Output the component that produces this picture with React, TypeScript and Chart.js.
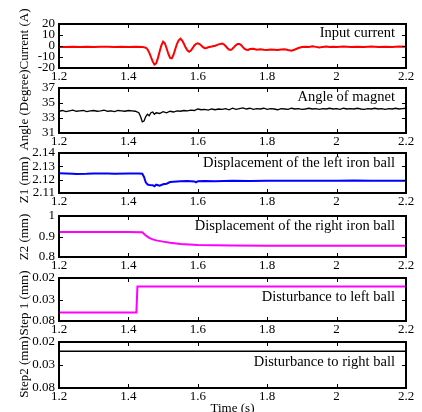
import React, { useEffect, useRef } from "react";
import { Chart, registerables } from "chart.js";
Chart.register(...registerables);

const FONT = "'Liberation Serif', 'Times New Roman', serif";

// shared time axis
const xTicks = [1.2, 1.4, 1.6, 1.8, 2.0, 2.2];
const xTickLabels = ["1.2", "1.4", "1.6", "1.8", "2", "2.2"];

// Panel 1: input current
const curT = [
  1.2, 1.22, 1.24, 1.26, 1.28, 1.3, 1.32, 1.34, 1.36, 1.38,
  1.4, 1.42, 1.44, 1.45, 1.455, 1.46, 1.465, 1.47, 1.475, 1.48,
  1.485, 1.49, 1.495, 1.5, 1.505, 1.51, 1.515, 1.52, 1.525, 1.53,
  1.535, 1.54, 1.545, 1.55, 1.555, 1.56, 1.565, 1.57, 1.575, 1.58,
  1.585, 1.59, 1.595, 1.6, 1.605, 1.61, 1.615, 1.62, 1.625, 1.63,
  1.64, 1.65, 1.66, 1.67, 1.675, 1.68, 1.685, 1.69, 1.695, 1.7,
  1.705, 1.71, 1.715, 1.72, 1.725, 1.73, 1.735, 1.74, 1.745, 1.75,
  1.76, 1.77, 1.78, 1.79, 1.8, 1.81, 1.82, 1.83, 1.84, 1.85,
  1.86, 1.87, 1.88, 1.89, 1.9, 1.91, 1.92, 1.93, 1.94, 1.95,
  1.96, 1.97, 1.98, 1.99, 2.0, 2.02, 2.04, 2.06, 2.08, 2.1,
  2.12, 2.14, 2.16, 2.18, 2.2,
];
const curV = [
  -0.8, -0.9, -0.7, -0.8, -0.6, -0.8, -0.7, -0.6, -0.8, -0.7,
  -0.8, -0.7, -0.8, -1.5, -3, -6, -10, -14, -16.8, -15.8,
  -11, -5, 0.5, 3.9, 2.5, -2, -7, -10.8, -11.2, -8,
  -3, 2, 5.2, 6.6, 5, 2, -1.5, -4, -5.2, -4.2,
  -2, 0.5, 2, 2.5, 1.8, 0.5, -1, -2, -1.8, -1.2,
  -0.5, 0.3, 1.5, 2.3, 1.5, 0, -1.8, -3.2, -3.6, -2.5,
  -0.8, 0.8, 1.8, 1.9, 0.8, -1, -2.6, -3.5, -3.6, -2.8,
  -2.5, -3.3, -3, -3.4, -3.6, -3.2, -3.4, -3.7, -3.2, -2.9,
  -3.6, -4.2, -3.2, -1.8, -0.9, -0.6, -0.9, -0.3, -0.8, -1.3,
  -0.8, -0.5, -0.9, -0.6, -0.8, -0.5, -1, -0.6, -0.9, -0.5,
  -0.8, -0.6, -0.9, -0.5, -0.6,
];
const curTicks = [-20, -10, 0, 10, 20];
const curTickLabels = ["-20", "-10", "0", "10", "20"];

// Panel 2: angle of magnet
const angT = [
  1.2, 1.21, 1.22, 1.23, 1.24, 1.25, 1.26, 1.27, 1.28, 1.29,
  1.3, 1.31, 1.32, 1.33, 1.34, 1.35, 1.36, 1.37, 1.38, 1.39,
  1.4, 1.41, 1.42, 1.43, 1.435, 1.44, 1.445, 1.45, 1.455, 1.46,
  1.465, 1.47, 1.475, 1.48, 1.49, 1.5, 1.51, 1.52, 1.53, 1.54,
  1.55, 1.56, 1.57, 1.58, 1.59, 1.6, 1.61, 1.62, 1.63, 1.64,
  1.65, 1.66, 1.67, 1.68, 1.69, 1.7, 1.71, 1.72, 1.73, 1.74,
  1.75, 1.76, 1.77, 1.78, 1.79, 1.8, 1.81, 1.82, 1.83, 1.84,
  1.85, 1.86, 1.87, 1.88, 1.89, 1.9, 1.91, 1.92, 1.93, 1.94,
  1.95, 1.96, 1.97, 1.98, 1.99, 2.0, 2.01, 2.02, 2.03, 2.04,
  2.05, 2.06, 2.07, 2.08, 2.09, 2.1, 2.11, 2.12, 2.13, 2.14,
  2.15, 2.16, 2.17, 2.18, 2.19, 2.2,
];
const angV = [
  33.9, 34.0, 33.85, 33.95, 34.05, 33.9, 33.95, 34.0, 33.85, 33.95,
  34.0, 33.9, 33.95, 34.05, 33.9, 33.95, 33.85, 34.0, 33.95, 33.9,
  34.0, 33.95, 33.9, 33.7, 33.2, 32.5, 32.6, 33.2, 33.5, 33.3,
  33.7, 33.8, 33.5, 33.7, 33.6, 33.85, 33.7, 33.9, 33.8, 33.95,
  33.9, 34.0, 33.95, 34.05, 34.0, 34.2, 34.1, 34.15, 34.05, 34.2,
  34.1, 34.2, 34.15, 34.25, 34.1, 34.3, 34.15, 34.25, 34.35, 34.2,
  34.3, 34.15, 34.25, 34.2, 34.3, 34.15, 34.25, 34.2, 34.1, 34.25,
  34.2, 34.15, 34.3, 34.2, 34.25, 34.15, 34.2, 34.3, 34.2, 34.25,
  34.15, 34.25, 34.2, 34.3, 34.2, 34.25, 34.15, 34.3, 34.2, 34.25,
  34.2, 34.3, 34.2, 34.15, 34.25, 34.2, 34.3, 34.2, 34.25, 34.15,
  34.25, 34.2, 34.3, 34.2, 34.25, 34.3,
];
const angTicks = [31, 33, 35, 37];
const angTickLabels = ["31", "33", "35", "37"];

// Panel 3: left ball displacement
const z1T = [
  1.2, 1.24, 1.25, 1.28, 1.3, 1.34, 1.36, 1.4, 1.43, 1.44,
  1.445, 1.45, 1.455, 1.46, 1.47, 1.475, 1.48, 1.49, 1.5, 1.51,
  1.52, 1.53, 1.55, 1.57, 1.59, 1.595, 1.6, 1.62, 1.65, 1.7,
  1.75, 1.8, 1.85, 1.9, 1.95, 2.0, 2.05, 2.1, 2.15, 2.2,
];
const z1V = [
  2.1248, 2.1245, 2.1243, 2.1244, 2.1246, 2.1247, 2.1245, 2.1246, 2.1246, 2.1244,
  2.122, 2.118, 2.1165, 2.116, 2.1158, 2.115, 2.1162, 2.1155, 2.1165, 2.117,
  2.1182, 2.1185, 2.1188, 2.119, 2.1187, 2.118, 2.1188, 2.119, 2.1189, 2.1191,
  2.119, 2.1191, 2.1192, 2.1191, 2.1192, 2.1191, 2.1193, 2.1192, 2.1191, 2.1192,
];
const z1Ticks = [2.11, 2.12, 2.13, 2.14];
const z1TickLabels = ["2.11", "2.12", "2.13", "2.14"];

// Panel 4: right ball displacement
const z2T = [
  1.2, 1.3, 1.4, 1.44, 1.45, 1.46, 1.47, 1.48, 1.5, 1.52,
  1.55, 1.6, 1.65, 1.7, 1.8, 1.9, 2.0, 2.1, 2.2,
];
const z2V = [
  0.922, 0.922, 0.922, 0.921, 0.905, 0.893, 0.886, 0.881, 0.875, 0.87,
  0.864, 0.859, 0.857, 0.856, 0.855, 0.855, 0.855, 0.855, 0.855,
];
const z2Ticks = [0.8, 0.9, 1.0];
const z2TickLabels = ["0.8", "0.9", "1"];

// Panel 5: disturbance to left ball
const s1T = [1.2, 1.423, 1.426, 2.2];
const s1V = [-0.06, -0.06, 0, 0];
// Panel 6: disturbance to right ball
const s2T = [1.2, 2.2];
const s2V = [0, 0];
const stepTicks = [-0.08, -0.03, 0.02];
const stepTickLabels = ["0.08", "0.03", "0.02"];

type Panel = {
  title: string; titleY: number; note: string; noteDy: number;
  top: number; bottom: number; yMin: number; yMax: number;
  yTicks: number[]; yLabels: string[]; t: number[]; v: number[];
  color: string; width: number; xTitle?: string;
};

const panels: Panel[] = [
  { title: "Current (A)", titleY: 39, note: "Input current", noteDy: 9, top: 24, bottom: 68, yMin: -20, yMax: 20, yTicks: curTicks, yLabels: curTickLabels, t: curT, v: curV, color: "#ff0000", width: 2 },
  { title: "Angle (Degree)", titleY: 110, note: "Angle of magnet", noteDy: 9, top: 88, bottom: 133, yMin: 31, yMax: 37, yTicks: angTicks, yLabels: angTickLabels, t: angT, v: angV, color: "#000000", width: 1.3 },
  { title: "Z1 (mm)", titleY: 180, note: "Displacement of the left iron ball", noteDy: 10, top: 153, bottom: 193, yMin: 2.11, yMax: 2.14, yTicks: z1Ticks, yLabels: z1TickLabels, t: z1T, v: z1V, color: "#0000ff", width: 2 },
  { title: "Z2 (mm)", titleY: 237, note: "Displacement of the right iron ball", noteDy: 10, top: 216, bottom: 257, yMin: 0.8, yMax: 1.0, yTicks: z2Ticks, yLabels: z2TickLabels, t: z2T, v: z2V, color: "#ff00ff", width: 2 },
  { title: "Step 1 (mm)", titleY: 303, note: "Disturbance to left ball", noteDy: 19, top: 278, bottom: 321, yMin: -0.08, yMax: 0.02, yTicks: stepTicks, yLabels: stepTickLabels, t: s1T, v: s1V, color: "#ff00ff", width: 2 },
  { title: "Step2 (mm)", titleY: 367, note: "Disturbance to right ball", noteDy: 20, top: 342, bottom: 388, yMin: -0.08, yMax: 0.02, yTicks: stepTicks, yLabels: stepTickLabels, t: s2T, v: s2V, color: "#000000", width: 1.5, xTitle: "Time (s)" },
];

const W = 422;
const H = 412;
const XAXIS_H = 20;

const framePlugin = {
  id: "frame",
  afterDatasetsDraw(chart: any, _args: any, opts: any) {
    const { ctx, chartArea: a, scales } = chart;
    ctx.save();
    ctx.strokeStyle = "#000";
    ctx.lineWidth = 1;
    const tl = 4;
    ctx.beginPath();
    scales.x.ticks.forEach((tk: any) => {
      const px = Math.round(scales.x.getPixelForValue(tk.value)) + 0.5;
      ctx.moveTo(px, a.bottom); ctx.lineTo(px, a.bottom - tl);
      ctx.moveTo(px, a.top); ctx.lineTo(px, a.top + tl);
    });
    scales.y.ticks.forEach((tk: any) => {
      const py = Math.round(scales.y.getPixelForValue(tk.value)) + 0.5;
      ctx.moveTo(a.left, py); ctx.lineTo(a.left + tl, py);
      ctx.moveTo(a.right, py); ctx.lineTo(a.right - tl, py);
    });
    ctx.stroke();
    ctx.lineWidth = 2;
    ctx.strokeRect(a.left, a.top, a.right - a.left, a.bottom - a.top);

    ctx.fillStyle = "#000";
    ctx.font = `14.5px ${FONT}`;
    ctx.textAlign = "right";
    ctx.textBaseline = "middle";
    ctx.fillText(opts.note, a.right - 11, a.top + opts.noteDy);

    ctx.font = `13px ${FONT}`;
    ctx.save();
    ctx.translate(25, opts.titleY);
    ctx.rotate(-Math.PI / 2);
    ctx.textAlign = "center";
    ctx.fillText(opts.title, 0, 0);
    ctx.restore();

    if (opts.xTitle) {
      ctx.textAlign = "center";
      ctx.fillText(opts.xTitle, (a.left + a.right) / 2, 409);
    }
    ctx.restore();
  },
};

function PanelChart({ p }: { p: Panel }) {
  const ref = useRef<HTMLCanvasElement>(null);
  useEffect(() => {
    const canvas = ref.current;
    if (!canvas) return;
    const chart = new Chart(canvas, {
      type: "line",
      data: {
        datasets: [
          {
            data: p.t.map((x, i) => ({ x, y: p.v[i] })),
            borderColor: p.color,
            borderWidth: p.width,
            pointRadius: 0,
            tension: 0,
            fill: false,
          },
        ],
      },
      options: {
        animation: false,
        responsive: false,
        maintainAspectRatio: false,
        events: [],
        layout: { padding: { left: 0, right: W - 406, top: p.top, bottom: H - p.bottom - XAXIS_H } },
        plugins: {
          legend: { display: false },
          tooltip: { enabled: false },
          frame: { note: p.note, noteDy: p.noteDy, title: p.title, titleY: p.titleY, xTitle: p.xTitle || "" },
        } as any,
        scales: {
          x: {
            type: "linear",
            min: 1.2,
            max: 2.2,
            afterBuildTicks: (s: any) => { s.ticks = xTicks.map((v) => ({ value: v })); },
            afterFit: (s: any) => { s.height = XAXIS_H; },
            grid: { display: false, drawTicks: false },
            border: { display: false },
            ticks: {
              padding: 1,
              maxRotation: 0,
              autoSkip: false,
              color: "#000",
              font: { family: FONT, size: 13 },
              callback: (_v: any, i: number) => xTickLabels[i],
            },
          },
          y: {
            type: "linear",
            min: p.yMin,
            max: p.yMax,
            afterBuildTicks: (s: any) => { s.ticks = p.yTicks.map((v) => ({ value: v })); },
            afterFit: (s: any) => { s.width = 59; },
            grid: { display: false, drawTicks: false },
            border: { display: false },
            ticks: {
              padding: 4,
              autoSkip: false,
              color: "#000",
              font: { family: FONT, size: 13 },
              callback: (_v: any, i: number) => p.yLabels[i],
            },
          },
        },
      },
      plugins: [framePlugin as any],
    });
    return () => chart.destroy();
  }, [p]);
  return (
    <canvas
      ref={ref}
      width={W}
      height={H}
      style={{ position: "absolute", left: 0, top: 0, width: W, height: H }}
    />
  );
}

export default function App() {
  useEffect(() => {
    document.body.style.margin = "0";
  }, []);
  return (
    <div style={{ position: "relative", width: W, height: H, background: "#fff" }}>
      {panels.map((p, i) => (
        <PanelChart key={i} p={p} />
      ))}
    </div>
  );
}
